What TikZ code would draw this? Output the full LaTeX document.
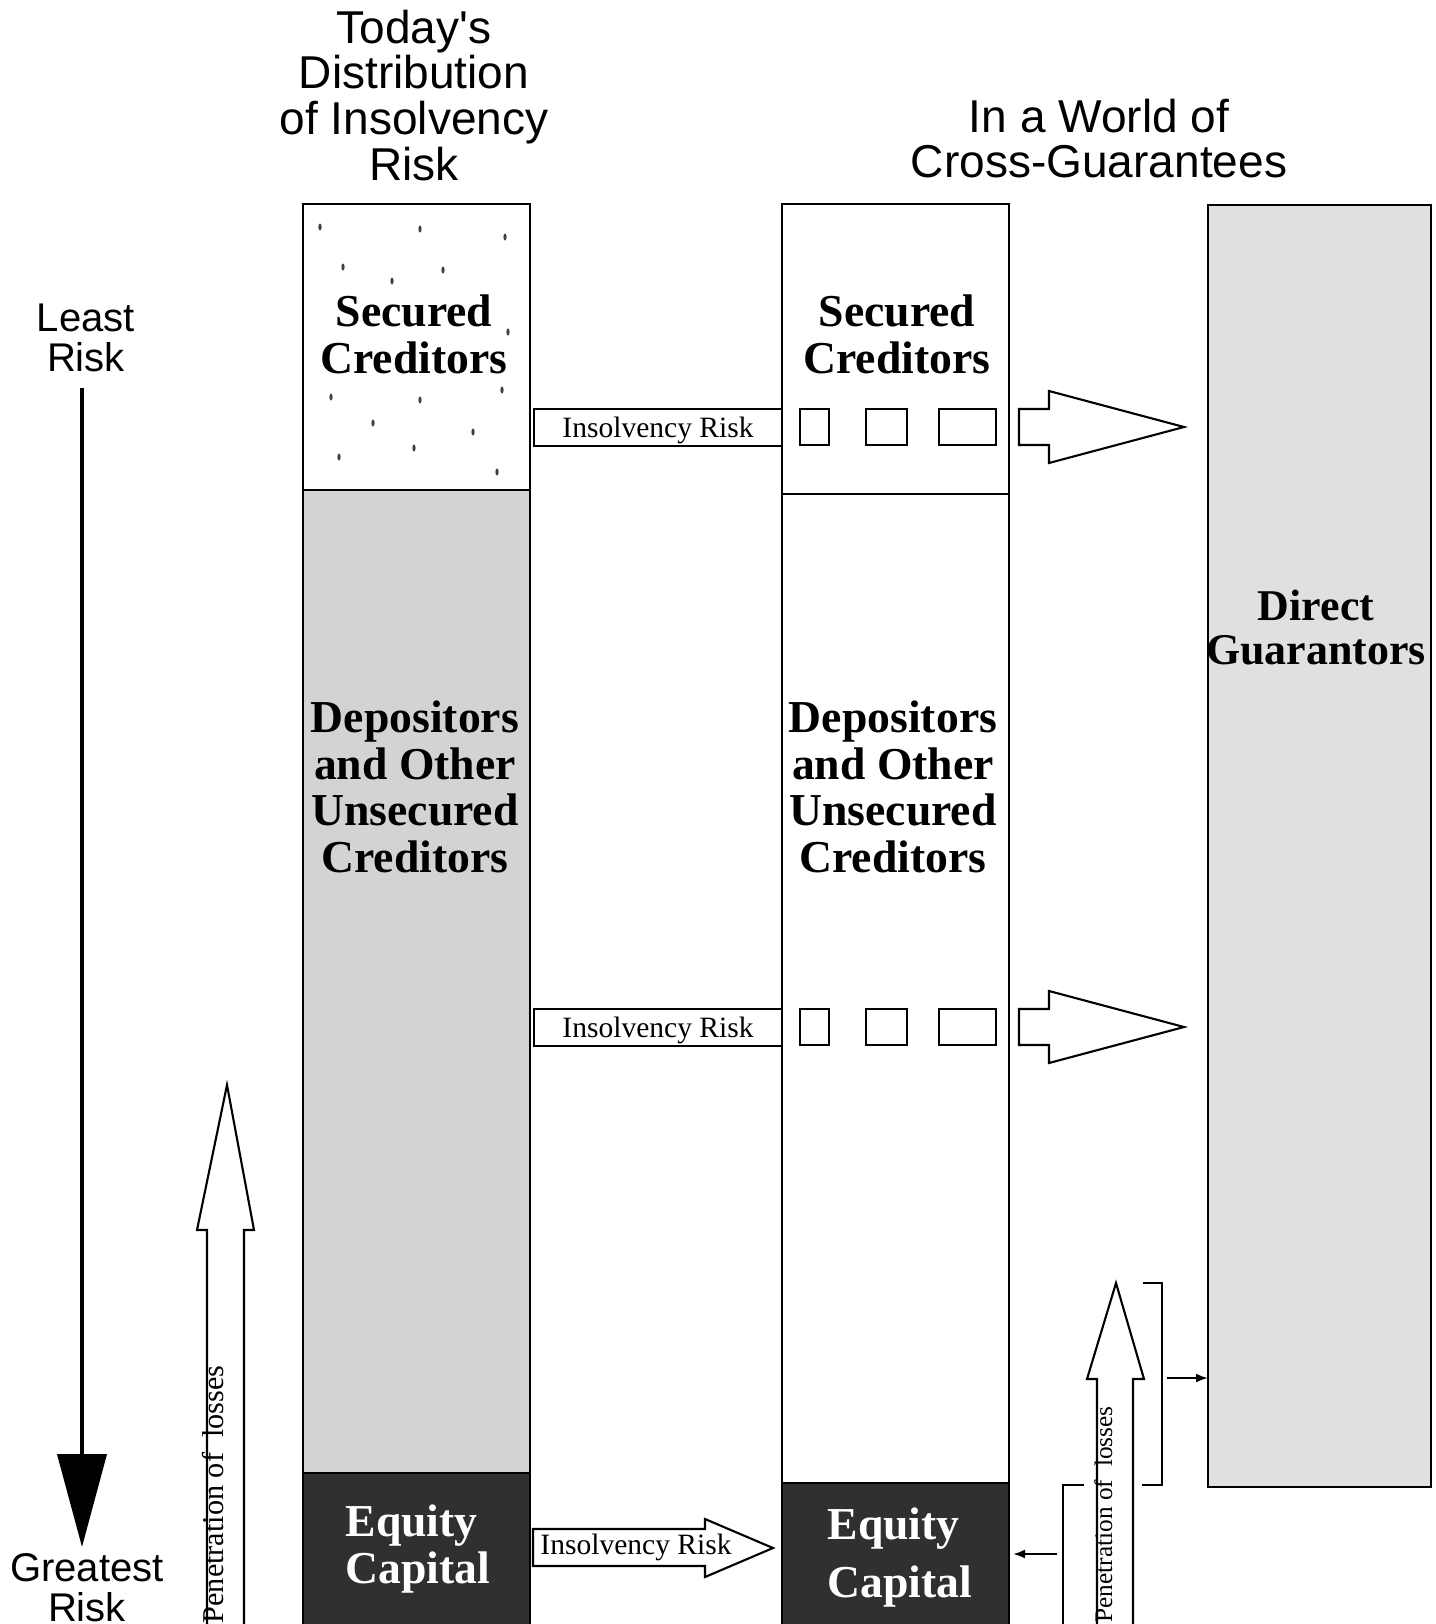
\documentclass[tikz,border=0pt]{standalone}
\usepackage{fontspec}
\setmainfont{Liberation Serif}
\setsansfont{Liberation Sans}
\usetikzlibrary{arrows.meta}

\definecolor{depgray}{HTML}{D3D3D3}
\definecolor{guagray}{HTML}{E0E0E0}
\definecolor{eqdark}{HTML}{303030}
\definecolor{speckgray}{HTML}{404040}

\tikzset{
  part/.style={draw=black, line width=0.6pt},
  heading/.style={font=\sffamily\fontsize{13.1}{13}\selectfont, align=center, inner sep=0},
  scaletext/.style={font=\sffamily\fontsize{11.4}{11.4}\selectfont, align=center, inner sep=0},
  boxtext/.style={font=\bfseries\fontsize{13}{13.3}\selectfont, align=center, inner sep=0},
  eqtext/.style={boxtext, text=white, align=left, anchor=north west},
  riskbox/.style={part, fill=white, minimum width=24.8mm, minimum height=3.7mm, inner sep=0,
    text depth=0pt, font=\fontsize{8.4}{9}\selectfont},
  smallarrow/.style={line width=0.6pt, -{Latex[length=1.2mm, width=0.9mm]}},
}

\begin{document}
\begin{tikzpicture}[x=0.1mm, y=-0.1mm]
\useasboundingbox (0,0) rectangle (1435,1624);

% Headings
\node[heading, anchor=north] (today) at (414,9) {Today\textquotesingle s\\Distribution\\of Insolvency\\Risk};
\node[heading, anchor=north] (world) at (1099,98) {In a World of\\Cross-Guarantees};

% Risk scale
\node[scaletext, anchor=north] (least) at (86,303) {Least\\Risk};
\node[scaletext, anchor=north] (greatest) at (87,1553) {Greatest\\Risk};
\coordinate (scaletop) at (82,388);
\coordinate (scalebot) at (82,1547);
\draw[line width=0.4mm, -{Triangle[length=9.3mm, width=4.9mm]}] (scaletop) -- (scalebot);

% Today: left column
\draw[part, fill=white] (303,204) rectangle (530,490);
\foreach \px/\py in {320/227, 420/229, 505/237, 343/267, 443/270, 392/281, 508/332,
    331/397, 420/400, 502/390, 373/423, 473/432, 339/457, 414/448, 497/472}
  \fill[speckgray] (\px,\py) ellipse (0.16mm and 0.35mm);
\draw[part, fill=depgray] (303,490) rectangle (530,1473);
\draw[part, fill=eqdark] (303,1473) rectangle (530,1640);
\node[boxtext, anchor=north] (sec1) at (414,294) {Secured\\Creditors};
\node[boxtext, anchor=north] (dep1) at (415,700) {Depositors\\and Other\\Unsecured\\Creditors};
\node[eqtext] (eq1) at (345,1504) {Equity\\Capital};

% Cross-guarantees: middle column
\draw[part, fill=white] (782,204) rectangle (1009,494);
\draw[part, fill=white] (782,494) rectangle (1009,1483);
\draw[part, fill=eqdark] (782,1483) rectangle (1009,1640);
\coordinate (eqNE) at (1009,1483);
\node[boxtext, anchor=north] (sec2) at (897,294) {Secured\\Creditors};
\node[boxtext, anchor=north] (dep2) at (893,700) {Depositors\\and Other\\Unsecured\\Creditors};
\node[eqtext, font=\bfseries\fontsize{13}{16.5}\selectfont] (eq2) at (827,1507) {Equity\\Capital};

% Guarantors: right column
\draw[part, fill=guagray] (1208,205) rectangle (1431,1487);
\coordinate (guaNW) at (1208,205);
\node[boxtext, anchor=north, font=\bfseries\fontsize{12.5}{12.6}\selectfont] (gua) at (1316,589) {Direct\\Guarantors};

% Insolvency risk passed on
\foreach \ry/\n in {427/1, 1027/2} {
  \node[riskbox] (risk\n) at (658,\ry+0.5) {Insolvency Risk};
  \draw[part] (800,\ry-18) rectangle (829,\ry+18)
              (866,\ry-18) rectangle (907,\ry+18)
              (939,\ry-18) rectangle (996,\ry+18);
  \draw[part, fill=white] (1019,\ry-18) -- (1049,\ry-18) -- (1049,\ry-36) -- (1184,\ry)
    -- (1049,\ry+36) -- (1049,\ry+18) -- (1019,\ry+18) -- cycle;
}
\draw[part, fill=white] (533,1529) -- (705,1529) -- (705,1519) -- (773,1548)
  -- (705,1577) -- (705,1566) -- (533,1566) -- cycle;
\node[font=\fontsize{8.4}{9}\selectfont, inner sep=0] (risk3) at (636,1547) {Insolvency Risk};

% Penetration of losses
\draw[part, fill=white] (207,1640) -- (207,1230) -- (197,1230) -- (227,1085)
  -- (254,1230) -- (244,1230) -- (244,1640);
\node[rotate=90, anchor=base west, inner sep=0, font=\fontsize{8.6}{10}\selectfont]
  (pen1) at (223,1624) {Penetration of~ losses};
\draw[part, fill=white] (1097,1640) -- (1097,1379) -- (1087,1379) -- (1116,1283)
  -- (1144,1379) -- (1133,1379) -- (1133,1640);
\node[rotate=90, anchor=base west, inner sep=0, font=\fontsize{7.2}{8}\selectfont]
  (pen2) at (1112,1623) {Penetration of~ losses};

% Brackets
\draw[part] (1143,1283) -- (1162,1283) -- (1162,1485) -- (1142,1485);
\draw[part] (1084,1485) -- (1063,1485) -- (1063,1640);
\coordinate (brkout) at (1167,1378);
\draw[smallarrow] (brkout) -- (brkout -| guaNW);
\coordinate (eqfrom) at (1057,1554);
\draw[smallarrow, shorten >=0.4mm] (eqfrom) -- (eqfrom -| eqNE);
\end{tikzpicture}
\end{document}
